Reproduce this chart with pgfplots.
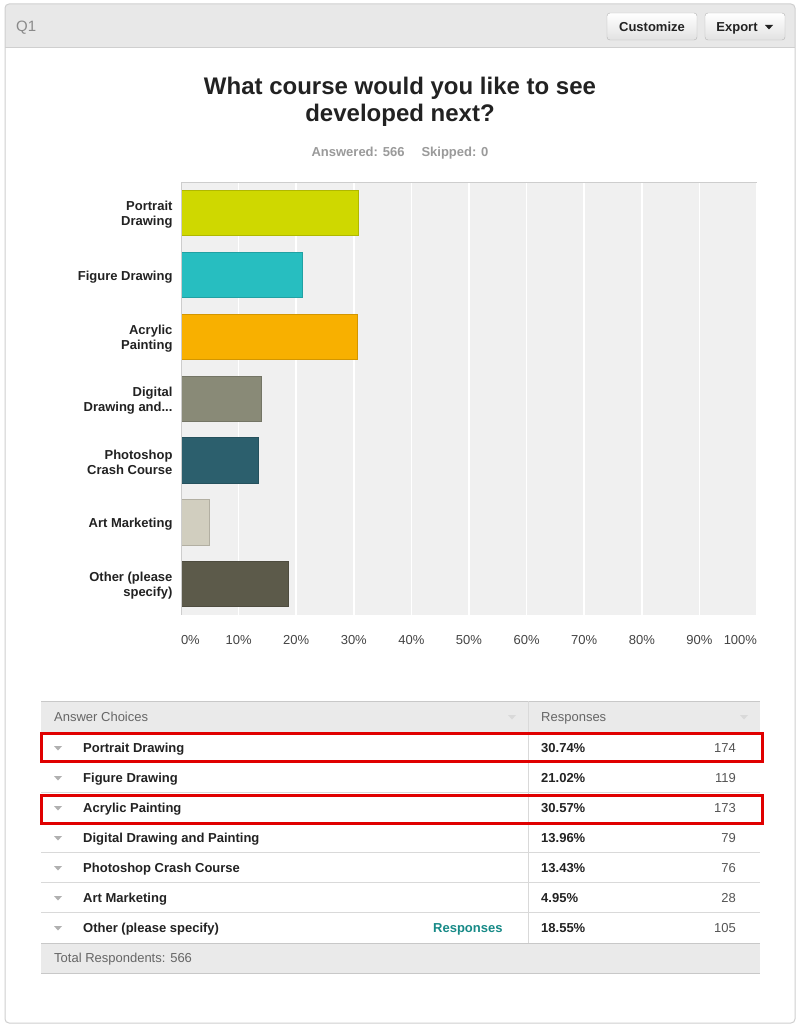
\documentclass[border=0pt]{standalone}
\usepackage{fontspec}
\setmainfont{Liberation Sans}
\usepackage{pgfplots}
\pgfplotsset{compat=1.18}
\definecolor{frameg}{HTML}{CFCFCF}
\definecolor{hdrg}{HTML}{E8E8E8}
\definecolor{q1g}{HTML}{8A8A8A}
\definecolor{btnbd}{HTML}{B5B5B5}
\definecolor{btnbot}{HTML}{E2E2E2}
\definecolor{txtdark}{HTML}{222222}
\definecolor{ansg}{HTML}{9A9A9A}
\definecolor{plotbg}{HTML}{F0F0F0}
\definecolor{axisg}{HTML}{CDCDCD}
\definecolor{tickc}{HTML}{444444}
\definecolor{tblhdr}{HTML}{EAEAEA}
\definecolor{tblline}{HTML}{C8C8C8}
\definecolor{rowline}{HTML}{D9D9D9}
\definecolor{trig}{HTML}{B0B0B0}
\definecolor{cntg}{HTML}{555555}
\definecolor{hdrtxt}{HTML}{666666}
\definecolor{redbox}{HTML}{E00000}
\definecolor{teal}{HTML}{178A87}
\definecolor{cA}{HTML}{CFD800}
\definecolor{cB}{HTML}{27BEC0}
\definecolor{cC}{HTML}{F8B000}
\definecolor{cD}{HTML}{898A77}
\definecolor{cE}{HTML}{2C5F6D}
\definecolor{cF}{HTML}{D1CEBF}
\definecolor{cG}{HTML}{5C5A4A}
\newcommand{\fs}[1]{\fontsize{#1}{#1}\selectfont}
\begin{document}
\begin{tikzpicture}
\begin{scope}[x=1pt,y=-1pt]
\path[use as bounding box] (0,0) rectangle (800,1033);
\fill[white, rounded corners=4pt] (5,4) rectangle (795,1023);
\begin{scope}
\clip[rounded corners=4pt] (5,4) rectangle (795,1023);
\fill[hdrg] (5,4) rectangle (795,47);
\end{scope}
\draw[frameg, line width=0.8pt] (5,47) -- (795,47);
\draw[frameg, line width=1pt, rounded corners=4pt] (5,4) rectangle (795,1023);
\node[anchor=base west, text=q1g, font=\fs{15}, inner sep=0pt] at (16,31.5) {Q1};
% buttons
\draw[btnbd, top color=white, bottom color=btnbot, rounded corners=3pt] (607,13) rectangle (697,40);
\node[anchor=base, font=\fs{13}\bfseries, text=txtdark, inner sep=0pt] at (652,31.2) {Customize};
\draw[btnbd, top color=white, bottom color=btnbot, rounded corners=3pt] (705,13) rectangle (785,40);
\node[anchor=base, font=\fs{13}\bfseries, text=txtdark, inner sep=0pt] at (737,31.2) {Export};
\fill[txtdark] (765,25) -- (773,25) -- (769,29.5) -- cycle;
% title
\node[font=\fontsize{24}{27}\selectfont\bfseries, align=center, text=txtdark, inner sep=0pt, anchor=base] at (400,121.6) {What course would you like to see\\developed next?};
\node[font=\fs{13}\bfseries, text=ansg, inner sep=0pt, anchor=base] at (400,156.2) {Answered: 566\hspace{17pt}Skipped: 0};
% table
\fill[tblhdr] (41,701) rectangle (760,732);
\draw[tblline] (41,701) -- (760,701);
\draw[tblline] (41,732) -- (760,732);
\foreach \yy in {762,792,822,852,882,912} {\draw[rowline] (41,\yy) -- (760,\yy);}
\fill[tblhdr] (41,943) rectangle (760,973);
\draw[tblline] (41,943) -- (760,943);
\draw[tblline] (41,973) -- (760,973);
\draw[rowline] (528,701) -- (528,943);
\node[anchor=base west, font=\fs{13}, text=hdrtxt, inner sep=0pt] at (54,721.5) {Answer Choices};
\node[anchor=base west, font=\fs{13}, text=hdrtxt, inner sep=0pt] at (541,721.5) {Responses};
\fill[rowline] (508,715) -- (516,715) -- (512,719.5) -- cycle;
\fill[rowline] (740,715) -- (748,715) -- (744,719.5) -- cycle;
\foreach \yc/\lab/\pct/\cnt in {748/Portrait Drawing/30.74/174, 778/Figure Drawing/21.02/119, 808/Acrylic Painting/30.57/173, 838/Digital Drawing and Painting/13.96/79, 868/Photoshop Crash Course/13.43/76, 898/Art Marketing/4.95/28, 928/Other (please specify)/18.55/105} {
  \fill[trig] (54,\yc-2) -- (62,\yc-2) -- (58,\yc+2.5) -- cycle;
  \node[anchor=base west, font=\fs{13}\bfseries, text=txtdark, inner sep=0pt] at (83,\yc+4.7) {\lab};
  \node[anchor=base west, font=\fs{13}\bfseries, text=txtdark, inner sep=0pt] at (541,\yc+4.7) {\pct\%};
  \node[anchor=base east, font=\fs{13}, text=cntg, inner sep=0pt] at (736,\yc+4.7) {\cnt};
}
\node[anchor=base west, font=\fs{13}\bfseries, text=teal, inner sep=0pt] at (433,932.7) {Responses};
\node[anchor=base west, font=\fs{13}, text=hdrtxt, inner sep=0pt] at (54,962.7) {Total Respondents: 566};
\draw[redbox, line width=3pt] (41.5,733) rectangle (762.5,761.5);
\draw[redbox, line width=3pt] (41.5,795) rectangle (762.5,823.5);
\end{scope}
\begin{axis}[
  at={(181pt,-615pt)}, anchor=south west,
  scale only axis, width=576pt, height=433pt,
  xmin=0, xmax=100, ymin=-0.5, ymax=6.5, y dir=reverse,
  xbar, bar shift=0pt, bar width=0.73,
  axis background/.style={fill=plotbg},
  axis line style={draw=none},
  xmajorgrids, grid style={white, line width=1.6pt},
  major tick length=0pt,
  xtick={0,10,20,30,40,50,60,70,80,90,100},
  xticklabels={\rlap{0\%},10\%,20\%,30\%,40\%,50\%,60\%,70\%,80\%,90\%,\llap{100\%}},
  xticklabel style={anchor=center, yshift=-25pt, font=\fs{13}, text=tickc},
  ytick={0,1,2,3,4,5,6},
  yticklabels={{Portrait\\Drawing},{Figure Drawing},{Acrylic\\Painting},{Digital\\Drawing and{.}{.}{.}},{Photoshop\\Crash Course},{Art Marketing},{Other (please\\specify)}},
  yticklabel style={align=right, font=\fontsize{13}{15}\selectfont\bfseries, text=txtdark, xshift=-5pt, yshift=-2pt},
]
\addplot[fill=cA, draw=cA!85!black, line width=0.6pt] coordinates {(30.74,0)};
\addplot[fill=cB, draw=cB!85!black, line width=0.6pt] coordinates {(21.02,1)};
\addplot[fill=cC, draw=cC!85!black, line width=0.6pt] coordinates {(30.57,2)};
\addplot[fill=cD, draw=cD!85!black, line width=0.6pt] coordinates {(13.96,3)};
\addplot[fill=cE, draw=cE!85!black, line width=0.6pt] coordinates {(13.43,4)};
\addplot[fill=cF, draw=cF!85!black, line width=0.6pt] coordinates {(4.95,5)};
\addplot[fill=cG, draw=cG!85!black, line width=0.6pt] coordinates {(18.55,6)};
\draw[axisg, line width=1.6pt] (rel axis cs:0,0) -- (rel axis cs:0,1) -- (rel axis cs:1,1);
\end{axis}
\end{tikzpicture}
\end{document}
